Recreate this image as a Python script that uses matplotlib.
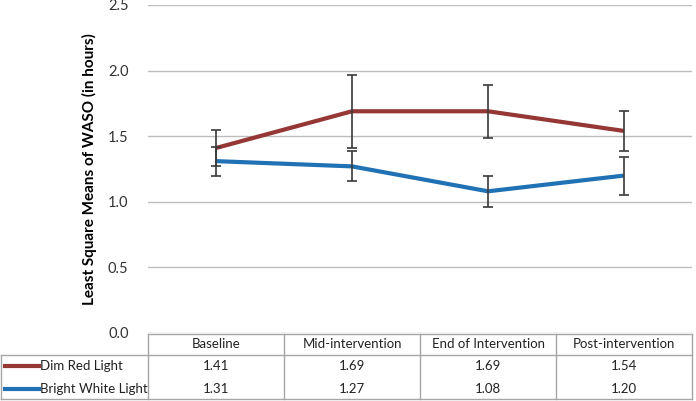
import matplotlib
matplotlib.use("Agg")
import matplotlib.pyplot as plt
import matplotlib.transforms as mtransforms

plt.rcParams["font.family"] = ["Lato", "DejaVu Sans"]

# Data
phases = ["Baseline", "Mid-intervention", "End of Intervention", "Post-intervention"]
series_names = ["Dim Red Light", "Bright White Light"]
dim_red = [1.41, 1.69, 1.69, 1.54]
dim_red_err = [0.14, 0.28, 0.20, 0.15]
bright_white = [1.31, 1.27, 1.08, 1.20]
bright_white_err = [0.11, 0.115, 0.12, 0.145]
colors = ["#953735", "#2171B5"]

W, H = 696, 401
fig = plt.figure(figsize=(W / 100, H / 100), dpi=100)

def fx(px):
    return px / W

def fy(py):
    return 1 - py / H

# Main plot area
ax = fig.add_axes([fx(148), fy(333), fx(692) - fx(148), fy(5) - fy(333)])
x = list(range(len(phases)))
for vals, errs, col in [(dim_red, dim_red_err, colors[0]),
                        (bright_white, bright_white_err, colors[1])]:
    ax.plot(x, vals, color=col, lw=3, solid_capstyle="butt", zorder=3)
    ax.errorbar(x, vals, yerr=errs, fmt="none", ecolor="#3a3a3a",
                elinewidth=1.2, capsize=3.5, capthick=1.2, zorder=4)

ax.set_xlim(-0.5, len(phases) - 0.5)
ax.set_ylim(0, 2.5)
ax.set_yticks([0, 0.5, 1.0, 1.5, 2.0, 2.5])
ax.set_yticklabels([f"{v:.1f}" for v in [0, 0.5, 1.0, 1.5, 2.0, 2.5]])
ax.set_xticks([])
ax.grid(axis="y", color="#BDBDBD", lw=1)
ax.set_axisbelow(True)
for s in ax.spines.values():
    s.set_visible(False)
ax.tick_params(axis="y", length=0, pad=14, labelsize=10.5, labelcolor="#333333")
ax.set_ylabel("Least Square Means of WASO (in hours)", fontsize=11,
              fontweight="bold", labelpad=8)

# Data table below the plot
tr = mtransforms.blended_transform_factory(ax.transData, fig.transFigure)
line_kw = dict(color="#A6A6A6", lw=1, transform=fig.transFigure)
top, hdr, bot = fy(334), fy(355), fy(399)
fig.add_artist(plt.Line2D([fx(148), fx(692)], [top, top], **line_kw))
fig.add_artist(plt.Line2D([fx(1), fx(692)], [hdr, hdr], **line_kw))
fig.add_artist(plt.Line2D([fx(1), fx(692)], [bot, bot], **line_kw))
fig.add_artist(plt.Line2D([fx(1), fx(1)], [hdr, bot], **line_kw))
for i in range(len(phases) + 1):
    xb = i - 0.5
    fig.add_artist(plt.Line2D([xb, xb], [top, bot], color="#A6A6A6", lw=1,
                              transform=tr))

for i, p in enumerate(phases):
    fig.text(i, (top + hdr) / 2, p, transform=tr, ha="center", va="center",
             fontsize=9.5, color="#222222")

row_y = [fy(366), fy(389)]
for vals, name, col, ry in zip([dim_red, bright_white], series_names, colors, row_y):
    fig.add_artist(plt.Line2D([fx(5), fx(39)], [ry, ry], color=col, lw=3,
                              transform=fig.transFigure))
    fig.text(fx(40), ry, name, ha="left", va="center", fontsize=9.5,
             color="#222222")
    for i, v in enumerate(vals):
        fig.text(i, ry, f"{v:.2f}", transform=tr, ha="center", va="center",
                 fontsize=9.5, color="#222222")

fig.savefig("out.png", dpi=100)
